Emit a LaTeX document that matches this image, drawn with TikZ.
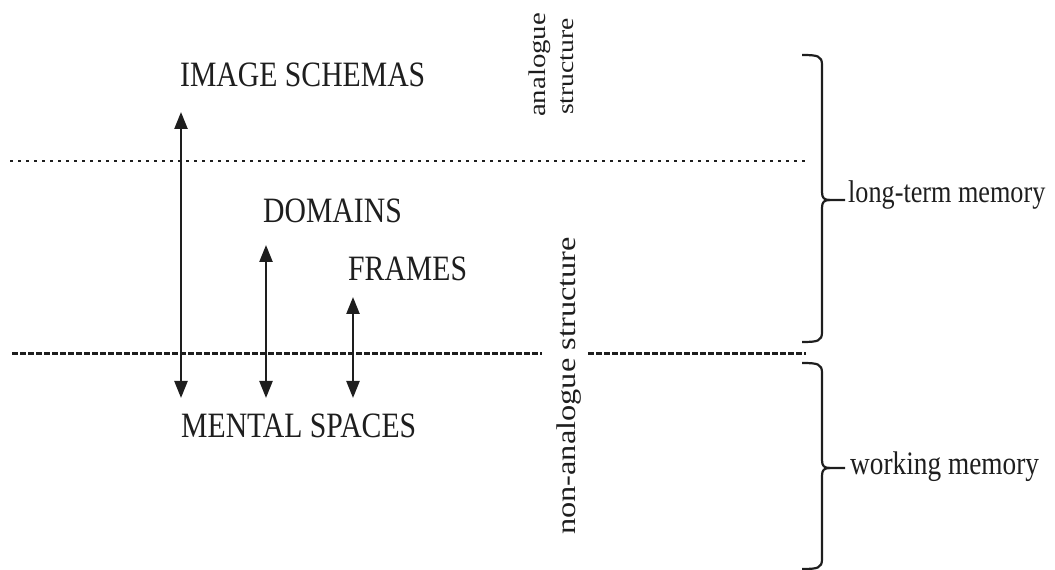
\documentclass[tikz,border=0pt]{standalone}
\usepackage{fontspec}
\setmainfont{Liberation Serif}
\usetikzlibrary{arrows.meta}
\definecolor{ink}{RGB}{30,30,30}
\tikzset{
  captxt/.style={anchor=base west, inner sep=0pt, text=ink, font=\fontsize{29.7}{30}\selectfont},
  lbl/.style={anchor=base west, inner sep=0pt, text=ink},
  rot/.style={anchor=base west, inner sep=0pt, text=ink, rotate=90},
  dbl/.style={draw=ink, line width=2.4pt, {Triangle[width=13pt,length=17pt]}-{Triangle[width=13pt,length=17pt]}},
  brace/.style={draw=ink, line width=2.2pt},
}
\newcommand{\vs}[1]{\scalebox{1}[1.2]{#1}}
\newcommand{\hs}[1]{\scalebox{1.2}[1]{#1}}
\begin{document}
\begin{tikzpicture}[x=1pt,y=1pt]
\useasboundingbox (0,0) rectangle (1055,570);
% texts
\node[captxt] (is) at (180,483) {\vs{IMAGE SCHEMAS}};
\node[captxt] (dom) at (263,347) {\vs{DOMAINS}};
\node[captxt] (fr) at (348,289) {\vs{FRAMES}};
\node[captxt] (ms) at (181,132) {\vs{MENTAL SPACES}};
\node[lbl, font=\fontsize{26.2}{27}\selectfont] (ltm) at (848,367) {\vs{long-term memory}};
\node[lbl, font=\fontsize{27.3}{28}\selectfont] (wm) at (850,95) {\vs{working memory}};
\node[rot, font=\fontsize{24}{25}\selectfont] (ana) at (545,453) {\hs{analogue}};
\node[rot, font=\fontsize{23}{24}\selectfont] (str) at (573,455) {\hs{structure}};
\node[rot, font=\fontsize{27}{28}\selectfont] (non) at (575,35) {\hs{non-analogue structure}};
% separators
\coordinate (dotL) at (10,409);
\coordinate (dotR) at (808,409);
\draw[ink, line width=2.5pt, dash pattern=on 2.5pt off 5.5pt] (dotL) -- (dotR);
\coordinate (dsL) at (12,216);
\coordinate (dsM1) at (542,216);
\coordinate (dsM2) at (588,216);
\coordinate (dsR) at (806,216);
\draw[ink, line width=3pt, dash pattern=on 6pt off 2pt] (dsL) -- (dsM1);
\draw[ink, line width=3pt, dash pattern=on 6pt off 2pt] (dsM2) -- (dsR);
% arrows
\coordinate (a1t) at (181,458);
\coordinate (a1b) at (181,172);
\coordinate (a2t) at (266,325);
\coordinate (a2b) at (266,172);
\coordinate (a3t) at (353,273);
\coordinate (a3b) at (353,172);
\draw[dbl] (a1b) -- (a1t);
\draw[dbl] (a2b) -- (a2t);
\draw[dbl] (a3b) -- (a3t);
% braces
\coordinate (b1top) at (802,515);
\coordinate (b1bot) at (802,228);
\coordinate (b1tip) at (845,370);
\draw[brace] (b1top) .. controls (818,515) and (822,514) .. (822,505) -- (822,378)
  .. controls (822,372) and (824,370) .. (830,370) -- (b1tip);
\draw[brace] (b1bot) .. controls (818,228) and (822,229) .. (822,238) -- (822,362)
  .. controls (822,368) and (824,370) .. (830,370);
\coordinate (b2top) at (802,207);
\coordinate (b2bot) at (802,1);
\coordinate (b2tip) at (845,102);
\draw[brace] (b2top) .. controls (818,207) and (822,206) .. (822,197) -- (822,110)
  .. controls (822,104) and (824,102) .. (830,102) -- (b2tip);
\draw[brace] (b2bot) .. controls (818,1) and (822,2) .. (822,11) -- (822,94)
  .. controls (822,100) and (824,102) .. (830,102);
\end{tikzpicture}
\end{document}
